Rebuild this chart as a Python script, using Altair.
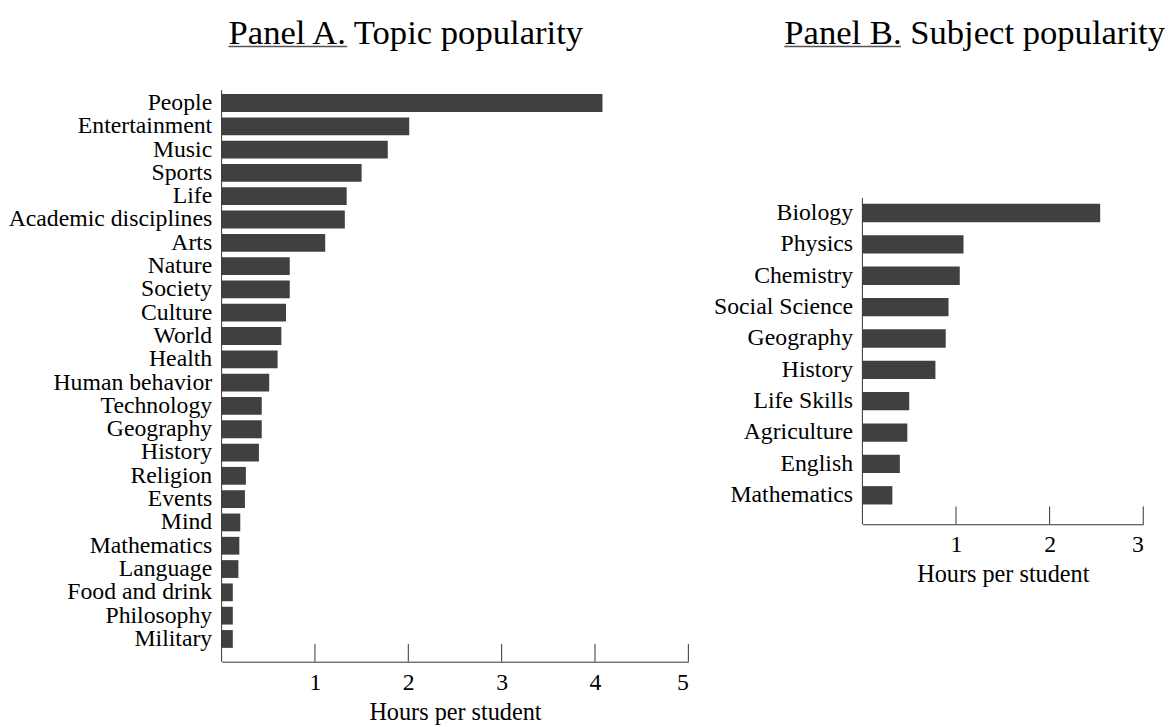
import altair as alt
import pandas as pd

topics = ["People", "Entertainment", "Music", "Sports", "Life", "Academic disciplines",
          "Arts", "Nature", "Society", "Culture", "World", "Health", "Human behavior",
          "Technology", "Geography", "History", "Religion", "Events", "Mind",
          "Mathematics", "Language", "Food and drink", "Philosophy", "Military"]
topic_hours = [4.08, 2.01, 1.78, 1.50, 1.34, 1.32, 1.11, 0.73, 0.73, 0.69, 0.64, 0.60,
               0.51, 0.43, 0.43, 0.40, 0.26, 0.25, 0.20, 0.19, 0.18, 0.12, 0.12, 0.12]

subjects = ["Biology", "Physics", "Chemistry", "Social Science", "Geography", "History",
            "Life Skills", "Agriculture", "English", "Mathematics"]
subject_hours = [2.54, 1.08, 1.04, 0.92, 0.89, 0.78, 0.50, 0.48, 0.40, 0.32]

ticks_a = [1, 2, 3, 4, 5]
ticks_b = [1, 2, 3]

FONT = "Liberation Serif"
BAR = "#404040"
AXC = "#333333"
H = 578


def panel(cats, vals, ticks, xmax, w, ytop, ybot, b0, b1, pi, title, tdx, ulw):
    df = pd.DataFrame({"cat": cats, "hours": vals})
    bars = alt.Chart(df).mark_bar(color=BAR).encode(
        y=alt.Y("cat:N", sort=cats,
                scale=alt.Scale(range=[b0, b1], paddingInner=pi, paddingOuter=0),
                axis=alt.Axis(title=None, ticks=False, domain=False, labelPadding=10,
                              labelFontSize=24, labelFont=FONT, labelColor="black",
                              labelOverlap=False, labelLimit=0)),
        x=alt.X("hours:Q", scale=alt.Scale(domain=[0, xmax], nice=False),
                axis=alt.Axis(values=ticks, format="d", ticks=False, grid=False,
                              offset=ybot - H,
                              domainColor=AXC, domainWidth=1, labelFontSize=24,
                              labelFont=FONT, labelColor="black", labelPadding=9,
                              title="Hours per student", titleFont=FONT,
                              titleFontSize=24.5, titleFontWeight="normal",
                              titleColor="black", titlePadding=6)),
    )
    tk = alt.Chart(pd.DataFrame({"hours": ticks})).mark_rule(color=AXC, strokeWidth=1).encode(
        x=alt.X("hours:Q"), y=alt.value(ybot), y2=alt.value(ybot - 18))
    one = pd.DataFrame({"u": [0]})
    yax = alt.Chart(one).mark_rule(color=AXC, strokeWidth=1).encode(
        x=alt.value(0), y=alt.value(ytop), y2=alt.value(ybot))
    ttl = alt.Chart(one).mark_text(text=title, font=FONT, fontSize=35, color="black",
                                   align="left", baseline="alphabetic").encode(
        x=alt.value(tdx), y=alt.value(-47))
    ul = alt.Chart(one).mark_rule(color="#555555", strokeWidth=1.5).encode(
        x=alt.value(tdx), x2=alt.value(tdx + ulw), y=alt.value(-44))
    return alt.layer(bars, tk, yax, ttl, ul).properties(width=w, height=H)


pa = panel(topics, topic_hours, ticks_a, 5, 472, 0, 578, 4, 564, 0.236,
           "Panel A. Topic popularity", 7, 120)
pb = panel(subjects, subject_hours, ticks_b, 3, 284, 109, 439, 115, 419, 0.416,
           "Panel B. Subject popularity", -79, 118)

chart = alt.hconcat(pa, pb, spacing=24).properties(
    padding={"left": 0, "top": 4, "right": 0, "bottom": 0}
).configure_view(stroke=None)

chart.save("out.html", embed_options={"renderer": "svg", "actions": False})
